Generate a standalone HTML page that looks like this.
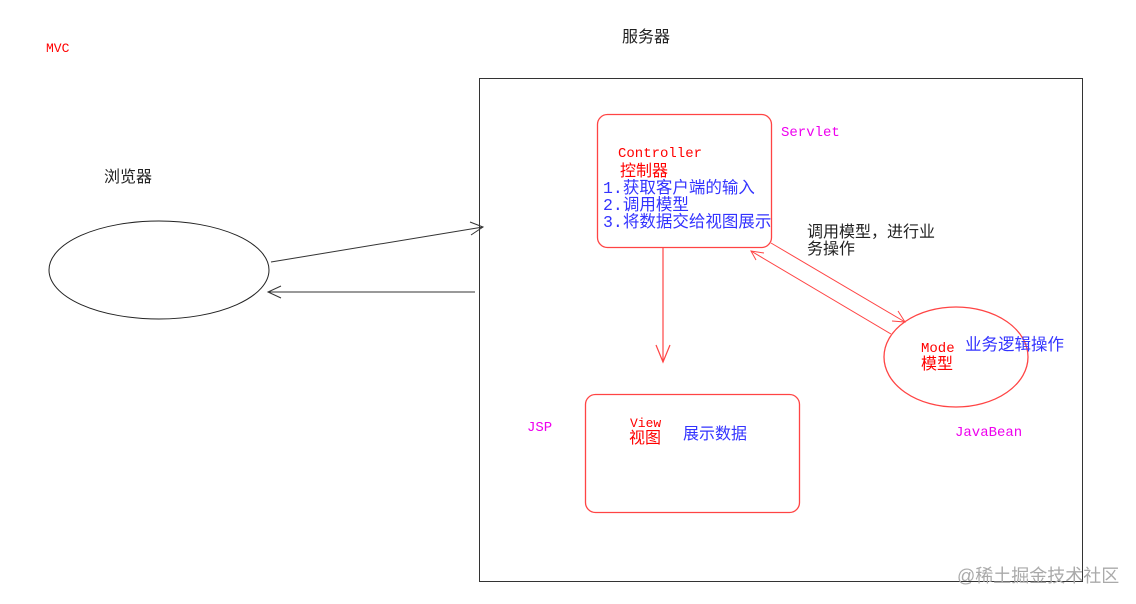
<!DOCTYPE html>
<html><head><meta charset="utf-8"><style>
html,body{margin:0;padding:0;background:#fff;width:1136px;height:604px;overflow:hidden}
svg text{font-family:"Liberation Sans","Noto Sans CJK SC",sans-serif}
.m{font-family:"Liberation Mono","Noto Sans CJK SC",monospace !important}
</style></head><body>
<svg width="1136" height="604" viewBox="0 0 1136 604" xmlns="http://www.w3.org/2000/svg">
<rect width="1136" height="604" fill="#fff"/>
<text x="46" y="52" class="m" font-size="13" fill="#f00">MVC</text>
<text x="622" y="42" font-size="16" fill="#222">服务器</text>
<text x="104" y="182" font-size="16" fill="#222">浏览器</text>
<rect x="479.5" y="78.5" width="603" height="503" fill="none" stroke="#333" stroke-width="1"/>
<ellipse cx="159" cy="270" rx="110" ry="49" fill="none" stroke="#222" stroke-width="1"/>
<line x1="271" y1="262" x2="483" y2="227" stroke="#333"/>
<polyline points="470,222 483,227 471,235" fill="none" stroke="#333"/>
<line x1="475" y1="292" x2="268" y2="292" stroke="#333"/>
<polyline points="281,286 268,292 281,298" fill="none" stroke="#333"/>
<rect x="597.5" y="114.5" width="174" height="133" rx="10" fill="none" stroke="#f44" stroke-width="1.3"/>
<text x="618" y="157" class="m" font-size="14" fill="#f00">Controller</text>
<text x="620" y="176" font-size="16" fill="#f00">控制器</text>
<text x="603" y="193" font-size="16.5" fill="#33f"><tspan class="m">1.</tspan>获取客户端的输入</text>
<text x="603" y="210" font-size="16.5" fill="#33f"><tspan class="m">2.</tspan>调用模型</text>
<text x="603" y="227" font-size="16.5" fill="#33f"><tspan class="m">3.</tspan>将数据交给视图展示</text>
<text x="781" y="136" class="m" font-size="14" fill="#e0e">Servlet</text>
<text x="807" y="237" font-size="16" fill="#222">调用模型，进行业</text>
<text x="807" y="254" font-size="16" fill="#222">务操作</text>
<line x1="663" y1="248" x2="663" y2="362" stroke="#f44" stroke-width="1.2"/>
<polyline points="656,345 663,362 670,345" fill="none" stroke="#f44" stroke-width="1.2"/>
<line x1="771" y1="243" x2="905" y2="322" stroke="#f44"/>
<polyline points="898,311 905,322 892,321" fill="none" stroke="#f44"/>
<line x1="891" y1="334" x2="751" y2="251" stroke="#f44"/>
<polyline points="756,260 751,251 764,253" fill="none" stroke="#f44"/>
<ellipse cx="956" cy="357" rx="72" ry="50" fill="none" stroke="#f44" stroke-width="1.3"/>
<text x="921" y="352" class="m" font-size="14" fill="#f00">Mode</text>
<text x="921" y="369" font-size="16" fill="#f00">模型</text>
<text x="965" y="350" font-size="16.5" fill="#33f">业务逻辑操作</text>
<text x="955" y="436" class="m" font-size="14" fill="#e0e">JavaBean</text>
<rect x="585.5" y="394.5" width="214" height="118" rx="10" fill="none" stroke="#f44" stroke-width="1.3"/>
<text x="527" y="431" class="m" font-size="14" fill="#e0e">JSP</text>
<text x="630" y="427" class="m" font-size="13" fill="#f00">View</text>
<text x="629" y="443" font-size="16" fill="#f00">视图</text>
<text x="683" y="439" font-size="16" fill="#33f">展示数据</text>
<text x="957" y="582" font-size="18" fill="#aaa">@稀土掘金技术社区</text>
</svg>
</body></html>
